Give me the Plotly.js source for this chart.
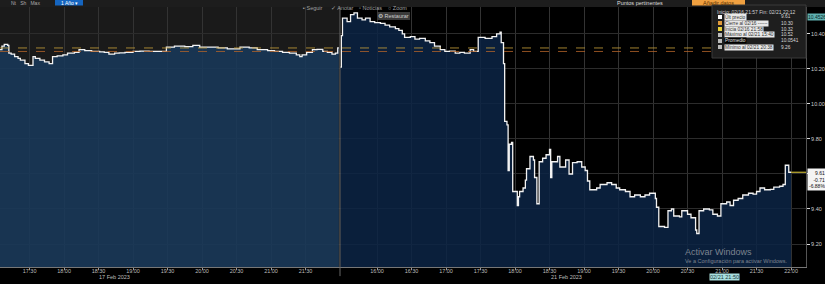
<!DOCTYPE html>
<html><head><meta charset="utf-8">
<script src="https://cdn.plot.ly/plotly-3.0.1.min.js"></script>
<style>html,body{margin:0;padding:0;background:#000;}#chart{width:825px;height:284px;}</style>
</head><body><div id="chart"></div>
<script>
// ---- data ----
const leftDate = '2023-02-17';
const rightDate = '2023-02-21';
const leftTimes = ['17:04','17:06','17:08','17:11','17:12','17:14','17:17','17:20','17:22','17:26','17:29','17:33','17:35','17:39','17:43','17:47','17:50','17:54','17:59','18:03','18:09','18:13','18:18','18:24','18:31','18:35','18:39','18:44','18:48','18:53','19:00','19:06','19:14','19:23','19:29','19:36','19:45','19:52','19:58','20:07','20:14','20:22','20:33','20:41','20:48','20:57','21:03','21:10','21:16','21:22','21:25','21:27','21:31','21:36','21:40','21:45','21:49','21:53','21:56','21:58','21:59'];
const leftValues = [10.31,10.33,10.34,10.335,10.29,10.285,10.27,10.26,10.25,10.23,10.22,10.27,10.26,10.25,10.24,10.23,10.27,10.275,10.28,10.29,10.295,10.31,10.305,10.30,10.298,10.295,10.285,10.29,10.292,10.295,10.30,10.302,10.30,10.30,10.325,10.33,10.328,10.335,10.325,10.325,10.32,10.315,10.325,10.32,10.31,10.305,10.30,10.295,10.29,10.28,10.27,10.28,10.295,10.31,10.312,10.30,10.295,10.285,10.29,10.32,10.32];
const rightTimes = ['15:28','15:29','15:30','15:34','15:37','15:40','15:43','15:47','15:50','15:54','15:58','16:03','16:07','16:11','16:16','16:19','16:22','16:24','16:29','16:33','16:37','16:42','16:46','16:50','16:55','16:59','17:03','17:08','17:12','17:16','17:21','17:24','17:28','17:34','17:40','17:44','17:47','17:48','17:50','17:51','17:53','17:54','17:55','17:57','17:58','18:02','18:03','18:04','18:07','18:09','18:10','18:13','18:16','18:17','18:19','18:21','18:24','18:27','18:30','18:31','18:32','18:37','18:39','18:44','18:47','18:50','18:54','18:58','19:01','19:03','19:05','19:11','19:14','19:20','19:24','19:28','19:31','19:36','19:40','19:44','19:49','19:53','19:57','20:02','20:03','20:05','20:10','20:13','20:16','20:18','20:23','20:25','20:30','20:33','20:37','20:38','20:40','20:44','20:49','20:52','20:56','20:59','21:04','21:07','21:10','21:14','21:18','21:23','21:27','21:30','21:33','21:37','21:42','21:45','21:50','21:53','21:55','21:58','22:00'];
const rightValues = [10.21,10.39,10.49,10.47,10.51,10.52,10.49,10.48,10.49,10.47,10.465,10.46,10.45,10.44,10.43,10.42,10.40,10.38,10.385,10.37,10.375,10.36,10.35,10.33,10.31,10.30,10.302,10.29,10.295,10.29,10.31,10.30,10.38,10.375,10.385,10.40,10.41,10.35,10.23,9.90,9.88,9.62,9.77,9.78,9.50,9.42,9.47,9.50,9.52,9.565,9.63,9.70,9.68,9.58,9.43,9.67,9.69,9.71,9.74,9.58,9.67,9.70,9.64,9.68,9.60,9.665,9.67,9.64,9.62,9.56,9.51,9.52,9.54,9.55,9.54,9.52,9.51,9.50,9.47,9.48,9.47,9.48,9.49,9.46,9.41,9.30,9.295,9.39,9.40,9.36,9.355,9.39,9.37,9.35,9.28,9.26,9.39,9.40,9.395,9.37,9.36,9.43,9.44,9.42,9.45,9.46,9.48,9.49,9.485,9.50,9.52,9.51,9.512,9.525,9.53,9.54,9.65,9.61,9.61];
const leftTickLabels = ['17:30','18:00','18:30','19:00','19:30','20:00','20:30','21:00','21:30'];
const rightTickLabels = ['16:00','16:30','17:00','17:30','18:00','18:30','19:00','19:30','20:00','20:30','21:00','21:30','22:00'];
const yTickValues = [9.20,9.40,9.60,9.80,10.00,10.20,10.40];
const yTickLabels = ['9.20','9.40','','9.80','10.00','10.20','10.40']; // 9.60 hidden behind last-price box
const closeLevel = 10.30;   // Cierre al 02/16
const startLevel = 10.32;   // Inicia 02/16 21:58
const legendLabels = ['Últ precio','Cierre al 02/16 ------','Inicia 02/16 21:58','Máximo al 02/21 15:40','Promedio','Mínimo al 02/21 20:38'];
const legendValues = ['9.61','10.30','10.32','10.52','10.0541','9.26'];
const legendHeader = 'Inicio: 02/16 21:57 Fin: 02/21 22:12';
const lastBox = ['9.61','-0.71','-6.88%'];

// ---- build ----
const lx = leftTimes.map(t => leftDate + ' ' + t);
const rx = rightTimes.map(t => rightDate + ' ' + t);
const leftRange = [leftDate + ' 17:04:18', leftDate + ' 21:59:59'];
const rightRange = [rightDate + ' 15:27:50', rightDate + ' 22:13:00'];
const D = 340/806;
const FONT = 'Liberation Sans, Arial, sans-serif';

const traces = [
  {x: lx, y: leftValues, xaxis: 'x', yaxis: 'y', type: 'scatter', mode: 'lines',
   line: {shape: 'hv', color: '#f2f2f2', width: 1.3}, fill: 'tozeroy', fillcolor: 'rgba(25,57,92,0.85)', hoverinfo: 'skip'},
  {x: rx, y: rightValues, xaxis: 'x2', yaxis: 'y', type: 'scatter', mode: 'lines',
   line: {shape: 'hv', color: '#f2f2f2', width: 1.3}, fill: 'tozeroy', fillcolor: 'rgba(12,36,69,0.85)', hoverinfo: 'skip'}
];

const xCommon = {
  type: 'date', tickformat: '%H:%M', ticks: 'outside', ticklen: 2, tickcolor: '#999',
  tickfont: {size: 5.5, color: '#bdbdbd', family: FONT}, showgrid: true, gridcolor: '#333',
  gridwidth: 1, showline: true, linecolor: '#777', linewidth: 1, zeroline: false, fixedrange: true,
  anchor: 'y', ticklabelstandoff: -4
};

const lastT = rx[rx.length - 1], lastV = rightValues[rightValues.length - 1];
const pY = px => (267 - px) / 260;
const pX = px => px / 806;

const shapes = [
  {type: 'rect', xref: 'paper', yref: 'paper', x0: 0, x1: D, y0: 0, y1: 1, fillcolor: '#1a1a1a', line: {width: 0}, layer: 'below'},
  {type: 'rect', xref: 'paper', yref: 'paper', x0: D, x1: 1, y0: 0, y1: 1, fillcolor: '#000', line: {width: 0}, layer: 'below'},
  // top strip
  {type: 'rect', xref: 'paper', yref: 'paper', x0: 0, x1: 1.03, y0: 1, y1: 1.03, fillcolor: '#1d1d1d', line: {width: 0}},
  {type: 'rect', xref: 'paper', yref: 'paper', x0: pX(55), x1: pX(83), y0: pY(5.5), y1: 1.03, fillcolor: '#1565c0', line: {width: 0}},
  {type: 'rect', xref: 'paper', yref: 'paper', x0: pX(692), x1: pX(745), y0: pY(5.5), y1: 1.03, fillcolor: '#f0a040', line: {width: 0}},
  // reference levels
  {type: 'line', xref: 'paper', yref: 'y', x0: 0, x1: 1, y0: startLevel, y1: startLevel, line: {color: '#c9a13a', width: 0.8, dash: 'dash'}},
  {type: 'line', xref: 'paper', yref: 'y', x0: 0, x1: 1, y0: closeLevel, y1: closeLevel, line: {color: '#b5652a', width: 0.8, dash: 'dash'}},
  // session break
  {type: 'line', xref: 'paper', yref: 'paper', x0: D, x1: D, y0: -0.035, y1: 1, line: {color: '#666', width: 1}},
  // last price line
  {type: 'line', xref: 'x2', yref: 'y', x0: lastT, x1: rightRange[1], y0: lastV, y1: lastV, line: {color: '#e8d23a', width: 1}},
  // legend box
  {type: 'rect', xref: 'paper', yref: 'paper', x0: pX(712), x1: pX(806), y0: pY(58), y1: pY(5), fillcolor: '#1e1e1e', line: {color: '#3a3a3a', width: 1}},
  // restaurar button
  {type: 'rect', xref: 'paper', yref: 'paper', x0: pX(377), x1: pX(410), y0: pY(20), y1: pY(12), fillcolor: '#3a3a3a', line: {width: 0}}
];

const legendColors = ['#ffffff','#e09a3a','#e8d23a','#bbbbbb','#bbbbbb','#bbbbbb'];
const rowPx = [17, 23, 29, 35, 41, 47];
const ann = [];
function txt(x, y, text, size, color, extra) {
  ann.push(Object.assign({xref: 'paper', yref: 'paper', x: pX(x), y: pY(y), xanchor: 'center', yanchor: 'middle',
    text: text, showarrow: false, font: {size: size, color: color, family: FONT}}, extra || {}));
}
txt(715, 11.5, legendHeader, 5, '#d0d0d0', {xanchor: 'left'});
legendLabels.forEach((lab, i) => {
  shapes.push({type: 'rect', xref: 'paper', yref: 'paper', x0: pX(718), x1: pX(722), y0: pY(rowPx[i] + 2), y1: pY(rowPx[i] - 2), fillcolor: legendColors[i], line: {width: 0}});
  const dark = i === 4;
  txt(723.5, rowPx[i], lab, 4.8, dark ? '#e0e0e0' : '#333', {xanchor: 'left', bgcolor: dark ? '#000' : '#e8e8e8', borderpad: 0});
  txt(779, rowPx[i], legendValues[i], 4.8, '#d8d8d8', {xanchor: 'left'});
});
// date labels
txt(115, 277, '17 Feb 2023', 5.5, '#bdbdbd');
txt(566, 277, '21 Feb 2023', 5.5, '#bdbdbd');
txt(724, 277, '02/21 21:50', 5.5, '#1a3a3a', {bgcolor: '#a8dede', borderpad: 0});
txt(807, 17, '10.4526', 5, '#0a2a2a', {xanchor: 'left', bgcolor: '#5fb0b0', borderpad: 0});
// last value box
ann.push({xref: 'paper', yref: 'y', x: pX(807), y: lastV, xanchor: 'left', yanchor: 'top', yshift: 4, text: lastBox.join('<br>'), align: 'right', showarrow: false, bgcolor: '#f4f4f4', borderpad: 1, font: {size: 5, color: '#111', family: FONT}});
// toolbar
[['▪ Seguir', 313], ['✓ Anotar', 342], ['▫ Noticias', 370], ['○ Zoom', 397]].forEach(([t, x]) => txt(x, 8, t, 5.5, '#a0a0a0'));
txt(393.5, 16, '⚙ Restaurar', 5.5, '#cfcfcf');
txt(640, 3, 'Puntos pertinentes', 5.5, '#ddd');
txt(718, 3, 'Añadir datos', 5.5, '#5a3000');
txt(69, 3, '1 Año ▾', 5, '#fff');
txt(25, 3, 'Nt   Sh   Max', 5, '#aaa');
// watermark
txt(683, 252, 'Activar Windows', 9, 'rgba(200,200,200,0.6)', {xanchor: 'left'});
txt(683, 261, 'Ve a Configuración para activar Windows.', 5.5, 'rgba(200,200,200,0.6)', {xanchor: 'left'});

const layout = {
  width: 825, height: 284,
  margin: {l: 0, r: 19, t: 7, b: 17, pad: 0},
  paper_bgcolor: '#000', plot_bgcolor: '#000',
  showlegend: false,
  xaxis: Object.assign({}, xCommon, {domain: [0, D], range: leftRange,
    tickmode: 'array', tickvals: leftTickLabels.map(t => leftDate + ' ' + t), ticktext: leftTickLabels}),
  xaxis2: Object.assign({}, xCommon, {domain: [D, 1], range: rightRange,
    tickmode: 'array', tickvals: rightTickLabels.map(t => rightDate + ' ' + t), ticktext: rightTickLabels}),
  yaxis: {side: 'right', anchor: 'x2', range: [9.0686, 10.554], tickmode: 'array', tickvals: yTickValues,
    ticktext: yTickLabels, ticks: 'outside', ticklen: 3, tickcolor: '#ddd',
    tickfont: {size: 5.5, color: '#cfcfcf', family: FONT}, showgrid: true, gridcolor: '#2c2c2c',
    showline: true, linecolor: '#555', zeroline: false, fixedrange: true},
  shapes: shapes,
  annotations: ann
};

Plotly.newPlot('chart', traces, layout, {staticPlot: true, displayModeBar: false});
</script></body></html>
